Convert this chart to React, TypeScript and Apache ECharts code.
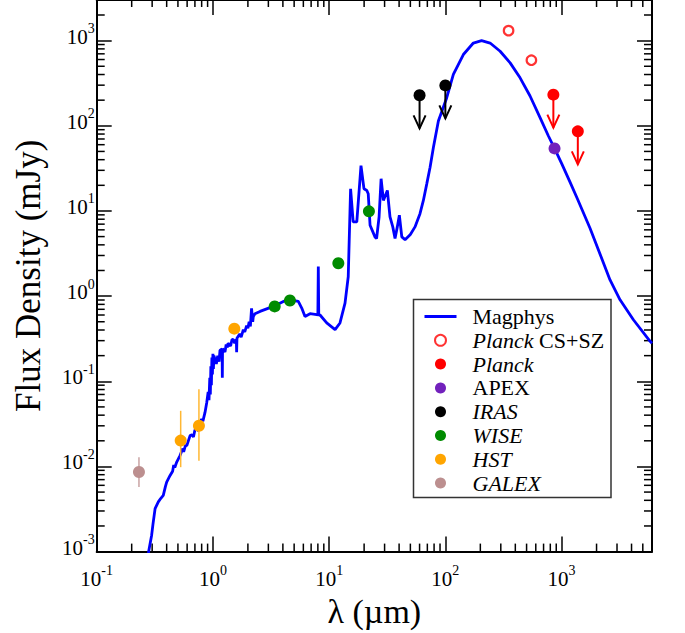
import React, { useEffect, useRef } from "react";
import * as echarts from "echarts";

// ---------- data (wavelength in µm, flux density in mJy) ----------
const magphysLam = [
  0.27, 0.28, 0.297, 0.305, 0.318, 0.339, 0.355, 0.374, 0.39, 0.4, 0.428, 0.45, 0.46, 0.47, 0.488, 0.521,
  0.55, 0.56, 0.58, 0.596, 0.636, 0.66, 0.68, 0.7, 0.726, 0.75, 0.775, 0.8, 0.82, 0.855, 0.885,
  0.91, 0.925, 0.94, 0.95, 0.96, 0.97, 0.98, 0.99, 1.0, 1.01, 1.02, 1.042, 1.07, 1.1, 1.13, 1.15,
  1.2, 1.205, 1.21, 1.229, 1.27, 1.3, 1.33, 1.35, 1.42, 1.46, 1.498, 1.54, 1.59, 1.6, 1.61, 1.7, 1.75,
  1.827, 1.88, 1.95, 2.0, 2.05, 2.1, 2.15, 2.2, 2.227, 2.3, 2.543, 3.31, 4.04, 4.61, 5.43, 5.81, 6.2,
  6.85, 7.82, 8.0, 8.07, 8.14, 8.35, 9.53, 11.25, 12.4, 13.7, 14.6, 15.3, 16.1, 17.3, 18.8, 19.95, 21.1,
  21.7, 22.5, 24.8, 25.6, 26.9, 28.0, 29.3, 31.7, 33.4, 35.3, 36.9, 38.6, 40.2, 42.2, 45.0, 50.0, 54.8,
  60.5, 64.7, 69.2, 73.9, 78.9, 87.1, 102.8, 117.2, 142.9, 174.2, 205, 242.7, 296, 361, 439.6, 535.6,
  653, 769, 870, 1005, 1183, 1368, 1758, 2612, 3185, 4150, 5780, 6000,
];
const magphysFlux = [
  0.0006, 0.001, 0.00156, 0.0021, 0.0032, 0.00384, 0.0042, 0.00458, 0.0058, 0.00656, 0.00784, 0.0088,
  0.0104, 0.0097, 0.01125, 0.01343, 0.0162, 0.0148, 0.0176, 0.01757, 0.023, 0.0235, 0.0222, 0.0268,
  0.0275, 0.0262, 0.033, 0.036, 0.034, 0.0431, 0.0564,
  0.075, 0.06, 0.11, 0.07, 0.15, 0.09, 0.19, 0.12, 0.21, 0.14, 0.2, 0.181, 0.16, 0.2, 0.17, 0.23,
  0.24, 0.11, 0.24, 0.236, 0.22, 0.27, 0.25, 0.28, 0.26, 0.31, 0.309, 0.28, 0.31, 0.22, 0.32, 0.36, 0.33,
  0.404, 0.38, 0.45, 0.42, 0.5, 0.44, 0.72, 0.5, 0.578, 0.62, 0.661, 0.757, 0.865, 0.906, 0.865, 0.724,
  0.578, 0.621, 0.605, 0.6, 2.22, 0.6, 0.6, 0.484, 0.404, 0.484, 0.828, 1.69, 18.2, 7.43, 7.43, 34.1,
  18.2, 17.4, 15.9, 6.8, 4.96, 4.75, 8.5, 23.9, 13.3, 17.4, 8.5, 6.5, 4.75, 6.5, 8.9, 4.96, 4.6, 5.3,
  6.5, 9.3, 13.3, 20.8, 32.6, 55.7, 114, 214, 401, 687, 937, 1000, 937, 750, 548, 366, 224, 124.9, 76.4,
  54.3, 35.7, 21.8, 13.9, 6.27, 1.55, 0.906, 0.528, 0.295, 0.28,
];

const planckCsLam = [350, 550];
const planckCsFlux = [1310, 589];
const planckLam = [850, 1380];
const planckFlux = [232, 86];
const apexLam = [870];
const apexFlux = [54.3];
const irasLam = [60, 100];
const irasFlux = [228, 298];
const wiseLam = [3.4, 4.6, 12, 22];
const wiseFlux = [0.757, 0.889, 2.43, 9.9];
const hstLam = [0.528, 0.758, 1.528];
const hstFlux = [0.0201, 0.0301, 0.415];
const hstErrLam = [0.528, 0.758];
const hstErrLo = [0.0098, 0.0117];
const hstErrHi = [0.045, 0.0805];
const galexLam = [0.231];
const galexFlux = [0.00859];
const galexErrLo = [0.00574];
const galexErrHi = [0.01286];

const xMin = 0.1;
const xMax = 6000;
const yMin = 0.001;
const yMax = 3000;

const legendNames = ["Magphys", "Planck CS+SZ", "Planck", "APEX", "IRAS", "WISE", "HST", "GALEX"];
const legendText: Record<string, string> = {
  Magphys: "Magphys",
  "Planck CS+SZ": "{i|Planck} CS+SZ",
  Planck: "{i|Planck}",
  APEX: "APEX",
  IRAS: "{i|IRAS}",
  WISE: "{i|WISE}",
  HST: "{i|HST}",
  GALEX: "{i|GALEX}",
};

// minor tick positions (2..9 x 10^k)
const xMinorTicks: number[] = [];
for (let k = -1; k <= 3; k++) for (let m = 2; m <= 9; m++) if (m * 10 ** k < xMax) xMinorTicks.push(m * 10 ** k);
const yMinorTicks: number[] = [];
for (let k = -3; k <= 3; k++) for (let m = 2; m <= 9; m++) if (m * 10 ** k < yMax) yMinorTicks.push(m * 10 ** k);

const zip = (a: number[], b: number[]) => a.map((v, i) => [v, b[i]]);

const FONT = "'Liberation Serif', 'Times New Roman', Times, serif";

const powLabel = (v: number) => {
  const lg = Math.log10(v);
  const e = Math.round(lg);
  if (Math.abs(lg - e) > 1e-6) return "";
  return `{b|10}{s|${e}}`;
};
const tickRich = {
  b: { fontFamily: FONT, fontSize: 21, color: "#000", lineHeight: 30 },
  s: { fontFamily: FONT, fontSize: 14, color: "#000", padding: [0, 0, 16, 0] },
};

export default function App() {
  const ref = useRef<HTMLDivElement>(null);
  useEffect(() => {
    if (!ref.current) return;
    const chart = echarts.init(ref.current, undefined, { renderer: "svg" });

    const axisLine = { show: true, onZero: false, lineStyle: { color: "#000", width: 2 } };
    const axisTick = { show: true, inside: true, length: 15, lineStyle: { color: "#000", width: 1.5 } };

    const errRender = (params: any, api: any) => {
      const x = api.value(0);
      const p1 = api.coord([x, api.value(1)]);
      const p2 = api.coord([x, api.value(2)]);
      return {
        type: "line",
        shape: { x1: p1[0], y1: p1[1], x2: p2[0], y2: p2[1] },
        style: { stroke: api.visual("color"), lineWidth: 1.5 },
      };
    };
    const arrowRender = (params: any, api: any) => {
      const p = api.coord([api.value(0), api.value(1)]);
      const c = api.visual("color");
      const L = 33;
      return {
        type: "group",
        children: [
          { type: "line", shape: { x1: p[0], y1: p[1], x2: p[0], y2: p[1] + L }, style: { stroke: c, lineWidth: 2 } },
          {
            type: "polyline",
            shape: { points: [[p[0] - 6, p[1] + L - 13], [p[0], p[1] + L], [p[0] + 6, p[1] + L - 13]] },
            style: { stroke: c, lineWidth: 2, fill: "none" },
          },
        ],
      };
    };
    const xMinorRender = (params: any, api: any) => {
      const cs = params.coordSys;
      const px = api.coord([api.value(0), 1])[0];
      const b = cs.y + cs.height;
      return {
        type: "group",
        children: [
          { type: "line", shape: { x1: px, y1: b, x2: px, y2: b - 8 }, style: { stroke: "#000", lineWidth: 1.5 } },
          { type: "line", shape: { x1: px, y1: cs.y, x2: px, y2: cs.y + 7 }, style: { stroke: "#000", lineWidth: 1.5 } },
        ],
      };
    };
    const yMinorRender = (params: any, api: any) => {
      const cs = params.coordSys;
      const py = api.coord([1, api.value(1)])[1];
      const r = cs.x + cs.width;
      return {
        type: "group",
        children: [
          { type: "line", shape: { x1: cs.x, y1: py, x2: cs.x + 8, y2: py }, style: { stroke: "#000", lineWidth: 1.5 } },
          { type: "line", shape: { x1: r, y1: py, x2: r - 8, y2: py }, style: { stroke: "#000", lineWidth: 1.5 } },
        ],
      };
    };

    const dot = (name: string, lam: number[], flux: number[], color: string) => ({
      type: "scatter",
      name,
      data: zip(lam, flux),
      symbol: "circle",
      symbolSize: 12,
      itemStyle: { color, opacity: 1 },
      z: 5,
    });

    const option: any = {
      animation: false,
      backgroundColor: "#fff",
      grid: { left: 96.7, right: 33, top: -1.6, bottom: 79.7 },
      xAxis: [
        {
          type: "log",
          logBase: 10,
          min: xMin,
          max: xMax,
          position: "bottom",
          axisLine,
          axisTick,
          splitLine: { show: false },
          axisLabel: { formatter: powLabel, margin: 12, rich: tickRich },
          name: "λ (µm)",
          nameLocation: "middle",
          nameGap: 35,
          nameTextStyle: { fontFamily: FONT, fontSize: 34, color: "#000" },
        },
        {
          type: "log",
          logBase: 10,
          min: xMin,
          max: xMax,
          position: "top",
          axisLine,
          axisTick,
          splitLine: { show: false },
          axisLabel: { show: false },
        },
      ],
      yAxis: [
        {
          type: "log",
          logBase: 10,
          min: yMin,
          max: yMax,
          position: "left",
          axisLine,
          axisTick,
          splitLine: { show: false },
          axisLabel: { formatter: powLabel, margin: 2, rich: tickRich, padding: [0, 0, 8, 0] },
          name: "Flux Density (mJy)",
          nameLocation: "middle",
          nameGap: 51,
          nameTextStyle: { fontFamily: FONT, fontSize: 35, color: "#000" },
        },
        {
          type: "log",
          logBase: 10,
          min: yMin,
          max: yMax,
          position: "right",
          axisLine,
          axisTick,
          splitLine: { show: false },
          axisLabel: { show: false },
        },
      ],
      legend: {
        data: legendNames.map((n) =>
          n === "Magphys"
            ? { name: n, itemStyle: { color: "rgba(0,0,0,0)", borderWidth: 0 }, lineStyle: { width: 3, color: "#0000ff" } }
            : { name: n }
        ),
        orient: "vertical",
        left: 423,
        top: 305.5,
        padding: 0,
        itemGap: 1.8,
        itemWidth: 32,
        itemHeight: 11,
        selectedMode: false,
        formatter: (n: string) => legendText[n],
        textStyle: {
          fontFamily: FONT,
          fontSize: 22,
          color: "#000",
          lineHeight: 20,
          padding: [0, 0, 0, 11],
          rich: { i: { fontFamily: FONT, fontSize: 22, fontStyle: "italic", color: "#000", lineHeight: 20 } },
        },
      },
      graphic: [
        {
          type: "rect",
          shape: { x: 413.5, y: 299.5, width: 197.5, height: 198 },
          style: { fill: "none", stroke: "#333", lineWidth: 1.5 },
          z: 10,
        },
      ],
      series: [
        {
          type: "custom",
          name: "xminor",
          renderItem: xMinorRender,
          data: xMinorTicks.map((v) => [v, 1]),
          silent: true,
          z: 1,
        },
        {
          type: "custom",
          name: "yminor",
          renderItem: yMinorRender,
          data: yMinorTicks.map((v) => [1, v]),
          silent: true,
          z: 1,
        },
        {
          type: "line",
          name: "Magphys",
          data: zip(magphysLam, magphysFlux),
          showSymbol: false,
          symbol: "none",
          lineStyle: { color: "#0000ff", width: 2.8 },
          itemStyle: { color: "#0000ff" },
          z: 2,
        },
        {
          type: "custom",
          name: "hstErr",
          renderItem: errRender,
          data: hstErrLam.map((v, i) => [v, hstErrLo[i], hstErrHi[i]]),
          itemStyle: { color: "#ffb733" },
          z: 3,
        },
        {
          type: "custom",
          name: "galexErr",
          renderItem: errRender,
          data: galexLam.map((v, i) => [v, galexErrLo[i], galexErrHi[i]]),
          itemStyle: { color: "#c9a3a3" },
          z: 3,
        },
        {
          type: "custom",
          name: "irasUL",
          renderItem: arrowRender,
          data: zip(irasLam, irasFlux),
          itemStyle: { color: "#000000" },
          z: 4,
        },
        {
          type: "custom",
          name: "planckUL",
          renderItem: arrowRender,
          data: zip(planckLam, planckFlux),
          itemStyle: { color: "#ff0000" },
          z: 4,
        },
        {
          type: "scatter",
          name: "Planck CS+SZ",
          data: zip(planckCsLam, planckCsFlux),
          symbol: "circle",
          symbolSize: 9.5,
          itemStyle: { color: "#ffffff", borderColor: "#ff0000", borderWidth: 2.2 },
          z: 5,
        },
        dot("Planck", planckLam, planckFlux, "#ff0000"),
        dot("APEX", apexLam, apexFlux, "#7221bc"),
        dot("IRAS", irasLam, irasFlux, "#000000"),
        dot("WISE", wiseLam, wiseFlux, "#008b00"),
        dot("HST", hstLam, hstFlux, "#ffa500"),
        dot("GALEX", galexLam, galexFlux, "#bc8f8f"),
      ],
    };
    chart.setOption(option);
    return () => chart.dispose();
  }, []);
  return (
    <div
      ref={ref}
      style={{ position: "fixed", left: 0, top: 0, width: 685, height: 633, background: "#fff" }}
    />
  );
}
